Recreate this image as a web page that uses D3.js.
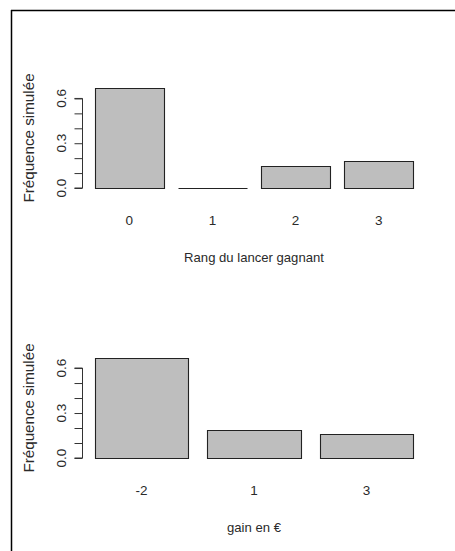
<!DOCTYPE html>
<html>
<head>
<meta charset="utf-8">
<script src="https://cdn.jsdelivr.net/npm/d3@7/dist/d3.min.js"></script>
<style>
  html, body { margin: 0; padding: 0; background: #fff; }
  svg { display: block; }
  text { font-family: "Liberation Sans", Arial, sans-serif; fill: #2a2a2a; }
</style>
</head>
<body>
<svg id="chart" width="455" height="551"></svg>
<script>
// Simulated frequencies: rank of the winning throw
const rangCategories = ["0", "1", "2", "3"];
const rangFrequencies = [0.670, 0.0, 0.148, 0.181];

// Simulated frequencies: gain in euros
const gainCategories = ["-2", "1", "3"];
const gainFrequencies = [0.667, 0.186, 0.157];

const yTicks = [0, 0.1, 0.2, 0.3, 0.4, 0.5, 0.6];
const yTickLabels = [0, 0.3, 0.6];
const yTitle = "Fréquence simulée";

const svg = d3.select("#chart");

// Frame lines along the top and left edges
svg.append("line").attr("x1", 11).attr("x2", 455).attr("y1", 10.5).attr("y2", 10.5)
  .attr("stroke", "#000").attr("stroke-width", 1.5);
svg.append("line").attr("x1", 11.5).attr("x2", 11.5).attr("y1", 10).attr("y2", 551)
  .attr("stroke", "#000").attr("stroke-width", 1.5);

function panel(offsetY, categories, values, xTitle) {
  const g = svg.append("g").attr("transform", `translate(0,${offsetY})`);
  const left = 82, right = 426, top = 84, bottom = 192;
  const n = categories.length;

  const x = d3.scaleBand()
    .domain(categories)
    .range([left, right])
    .paddingInner(1 / 6)
    .paddingOuter(0.04 * (n - 1 / 6));

  const ymax = d3.max(values);
  const y = d3.scaleLinear()
    .domain([-0.04 * ymax, 1.04 * ymax])
    .range([bottom, top]);

  // Bars drawn as closed paths so a zero-height bar still shows its outline
  g.selectAll("path.bar")
    .data(values)
    .join("path")
    .attr("class", "bar")
    .attr("d", (d, i) => {
      const x0 = Math.round(x(categories[i])) + 0.5;
      const x1 = Math.round(x(categories[i]) + x.bandwidth()) + 0.5;
      const y0 = Math.round(y(0)) + 0.5;
      const y1 = Math.round(y(d)) + 0.5;
      return `M${x0},${y0}H${x1}V${y1}H${x0}Z`;
    })
    .attr("fill", "#bebebe")
    .attr("stroke", "#222")
    .attr("stroke-width", 1.1);

  // Y axis
  const yAxis = d3.axisLeft(y)
    .tickValues(yTicks)
    .tickSize(8)
    .tickPadding(0)
    .tickFormat("");
  const ax = g.append("g").attr("transform", `translate(${left + 0.5},0)`).call(yAxis);
  ax.select(".domain").attr("d", `M-8,${y(0)}H0V${y(0.6)}H-8`).attr("stroke", "#333");
  ax.selectAll(".tick line").attr("stroke", "#333");

  g.selectAll("text.ytick")
    .data(yTickLabels)
    .join("text")
    .attr("class", "ytick")
    .attr("transform", d => `translate(66,${y(d)}) rotate(-90)`)
    .attr("text-anchor", "middle")
    .attr("font-size", 13.5)
    .text(d => d3.format(".1f")(d));

  // Category labels
  g.selectAll("text.xcat")
    .data(categories)
    .join("text")
    .attr("class", "xcat")
    .attr("x", d => x(d) + x.bandwidth() / 2)
    .attr("y", 225)
    .attr("text-anchor", "middle")
    .attr("font-size", 13.5)
    .text(d => d);

  // Axis titles
  g.append("text")
    .attr("x", (left + right) / 2)
    .attr("y", 262)
    .attr("text-anchor", "middle")
    .attr("font-size", 13.1)
    .text(xTitle);

  g.append("text")
    .attr("transform", `translate(33.5,${(top + bottom) / 2}) rotate(-90)`)
    .attr("text-anchor", "middle")
    .attr("font-size", 15.2)
    .text(yTitle);
}

panel(0, rangCategories, rangFrequencies, "Rang du lancer gagnant");
panel(270, gainCategories, gainFrequencies, "gain en €");
</script>
</body>
</html>
